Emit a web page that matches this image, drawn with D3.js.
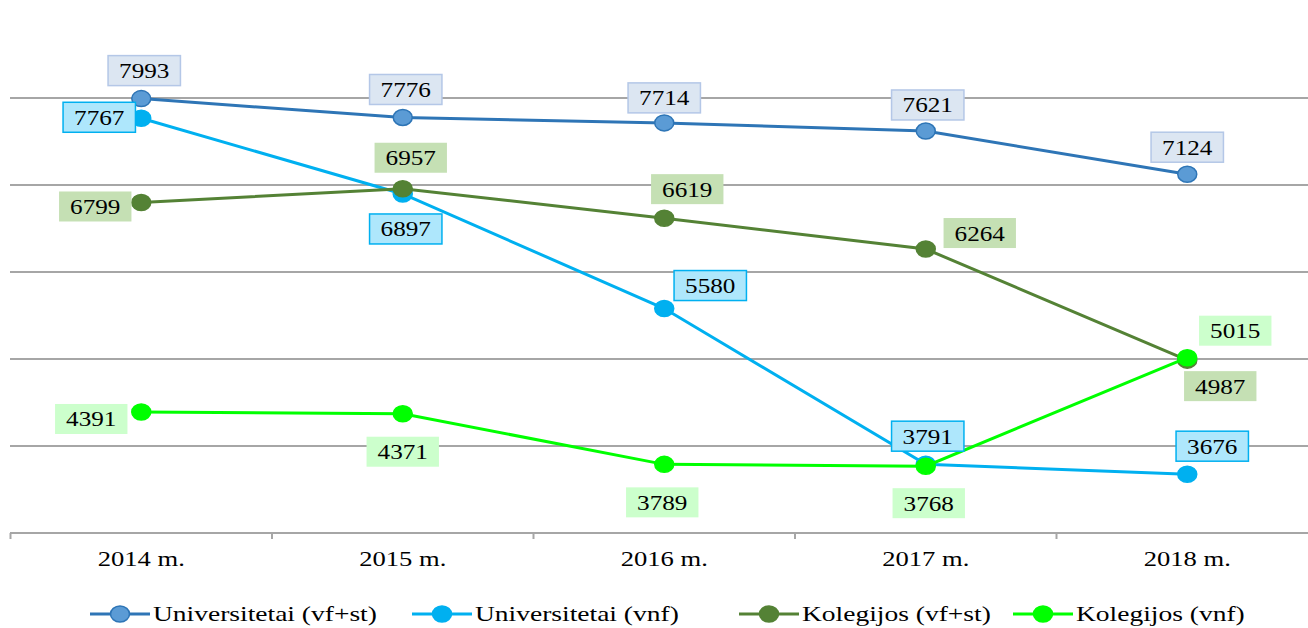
<!DOCTYPE html>
<html>
<head>
<meta charset="utf-8">
<script src="https://cdn.jsdelivr.net/npm/d3@7"></script>
<style>
    body { margin: 0; background: #fff; }
    svg { display: block; font-family: 'Liberation Serif', 'Times New Roman', serif; }
</style>
</head>
<body>
<svg id="chart" width="1308" height="628"></svg>
<script>
var years = ['2014 m.', '2015 m.', '2016 m.', '2017 m.', '2018 m.'];
var seriesNames = ['Universitetai (vf+st)', 'Universitetai (vnf)', 'Kolegijos (vf+st)', 'Kolegijos (vnf)'];
var uniFull = [7993, 7776, 7714, 7621, 7124];
var uniVnf = [7767, 6897, 5580, 3791, 3676];
var kolFull = [6799, 6957, 6619, 6264, 4987];
var kolVnf = [4391, 4371, 3789, 3768, 5015];

// label box offsets from the point (layout only)
var labelOffsets = [
    [[3, -28], [3, -28], [0, -25], [2, -26], [0, -27]],
    [[-42, -1], [3, 35], [46, -23], [2, -28], [25, -28]],
    [[-46, 4], [8, -31], [23, -29], [54, -16], [33, 26]],
    [[-50, 7], [0, 38], [-2, 38], [3, 37], [48, -27]]
];
var styles = [
    { line: '#2e75b6', fill: '#5b9bd5', stroke: '#2e75b6', box: '#dce6f2', boxStroke: '#b4c7e7' },
    { line: '#00b0f0', fill: '#00b0f0', stroke: '#00b0f0', box: '#aee7fc', boxStroke: '#00b0f0' },
    { line: '#548235', fill: '#548235', stroke: '#548235', box: '#c5e0b4', boxStroke: 'none' },
    { line: '#00ff00', fill: '#00ff00', stroke: '#00ff00', box: '#ccffcc', boxStroke: 'none' }
];

var series = [uniFull, uniVnf, kolFull, kolVnf].map(function (values, i) {
    return { name: seriesNames[i], values: values, style: styles[i], offsets: labelOffsets[i] };
});

var svg = d3.select('#chart');
var plotLeft = 10.5, plotRight = 1318, plotTop = 11, plotBottom = 533;

var xBand = d3.scaleBand().domain(years).range([plotLeft, plotRight]).paddingInner(0).paddingOuter(0);
var x = function (d) { return xBand(d) + xBand.bandwidth() / 2; };
var y = d3.scaleLinear().domain([3000, 9000]).range([plotBottom, plotTop]);

function stretch(sel, sx) {
    sel.attr('transform', function () {
        var t = d3.select(this);
        return 'translate(' + t.attr('data-x') + ',' + t.attr('data-y') + ') scale(' + sx + ',1)';
    });
}

// gridlines
svg.append('g').attr('class', 'grid')
    .selectAll('line')
    .data(y.ticks(6).filter(function (d) { return d > 3000 && d < 9000; }))
    .enter()
    .append('line')
    .attr('x1', plotLeft - 0.5)
    .attr('x2', 1308)
    .attr('y1', function (d) { return y(d); })
    .attr('y2', function (d) { return y(d); })
    .attr('stroke', '#a6a6a6')
    .attr('stroke-width', 2);

// x axis
var axis = svg.append('g').attr('transform', 'translate(0,' + plotBottom + ')');
axis.append('line')
    .attr('x1', plotLeft - 0.5).attr('x2', 1308)
    .attr('stroke', '#a6a6a6').attr('stroke-width', 2);
axis.selectAll('line.tick')
    .data(years.concat(['end']))
    .enter()
    .append('line')
    .attr('class', 'tick')
    .attr('x1', function (d, i) { return plotLeft + i * xBand.bandwidth(); })
    .attr('x2', function (d, i) { return plotLeft + i * xBand.bandwidth(); })
    .attr('y1', 0).attr('y2', 6)
    .attr('stroke', '#a6a6a6').attr('stroke-width', 2);
axis.selectAll('text')
    .data(years)
    .enter()
    .append('text')
    .attr('data-x', function (d) { return x(d); })
    .attr('data-y', 33)
    .attr('text-anchor', 'middle')
    .style('font-size', '20px')
    .attr('fill', '#000')
    .text(function (d) { return d; })
    .call(stretch, 1.33);

// lines and markers
var line = d3.line()
    .x(function (d, i) { return x(years[i]); })
    .y(function (d) { return y(d); });

series.forEach(function (s) {
    var g = svg.append('g').attr('class', 'series');
    g.append('path')
        .attr('d', line(s.values))
        .attr('fill', 'none')
        .attr('stroke', s.style.line)
        .attr('stroke-width', 3);
    g.selectAll('ellipse')
        .data(s.values)
        .enter()
        .append('ellipse')
        .attr('cx', function (d, i) { return x(years[i]); })
        .attr('cy', function (d) { return y(d); })
        .attr('rx', 9.5)
        .attr('ry', 8)
        .attr('fill', s.style.fill)
        .attr('stroke', s.style.stroke)
        .attr('stroke-width', 1.5);
});

// data labels
series.forEach(function (s) {
    var g = svg.append('g').attr('class', 'labels');
    s.values.forEach(function (v, i) {
        var cx = x(years[i]) + s.offsets[i][0];
        var cy = y(v) + s.offsets[i][1];
        var lg = g.append('g');
        var rect = lg.append('rect');
        var t = lg.append('text')
            .attr('data-x', cx)
            .attr('data-y', cy + 7.5)
            .attr('text-anchor', 'middle')
            .style('font-size', '21px')
            .attr('fill', '#000')
            .text(v)
            .call(stretch, 1.2);
        var w = t.node().getComputedTextLength() * 1.2 + 22;
        rect.attr('x', cx - w / 2)
            .attr('y', cy - 15)
            .attr('width', w)
            .attr('height', 30)
            .attr('fill', s.style.box)
            .attr('stroke', s.style.boxStroke)
            .attr('stroke-width', 1.5);
    });
});

// legend
var legend = svg.append('g').attr('class', 'legend');
var legendX = [90, 412, 739, 1013];
series.forEach(function (s, i) {
    var g = legend.append('g').attr('transform', 'translate(' + legendX[i] + ',614)');
    g.append('line')
        .attr('x1', 0).attr('x2', 60)
        .attr('stroke', s.style.line).attr('stroke-width', 3);
    g.append('ellipse')
        .attr('cx', 30).attr('cy', 0)
        .attr('rx', 9.5).attr('ry', 8)
        .attr('fill', s.style.fill)
        .attr('stroke', s.style.stroke)
        .attr('stroke-width', 1.5);
    g.append('text')
        .attr('data-x', 63)
        .attr('data-y', 7)
        .style('font-size', '22px')
        .attr('fill', '#000')
        .text(s.name)
        .call(stretch, 1.25);
});
</script>
</body>
</html>
